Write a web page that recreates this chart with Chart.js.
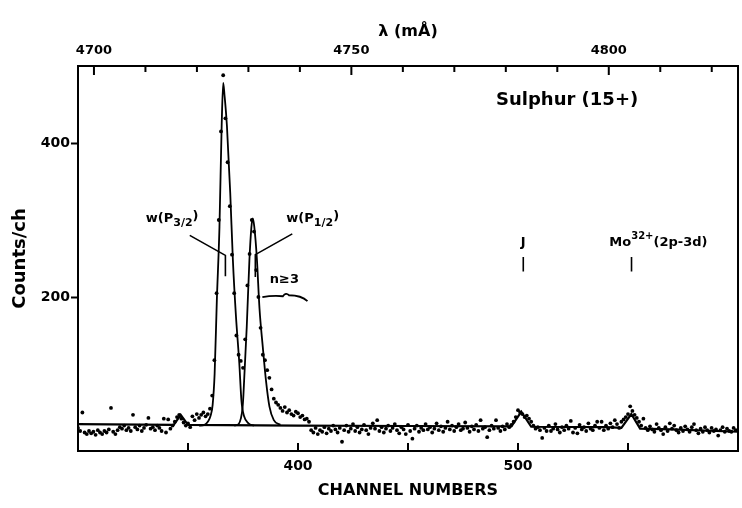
<!DOCTYPE html>
<html>
<head>
<meta charset="utf-8">
<script src="https://cdn.jsdelivr.net/npm/chart.js@4.4.1/dist/chart.umd.min.js"></script>
<style>
  html, body { margin: 0; padding: 0; background: #fff; }
  #wrap { width: 742px; height: 508px; }
</style>
</head>
<body>
<div id="wrap"><canvas id="chart" width="742" height="508"></canvas></div>
<script>
// channel 300 .. 599, one count per channel
const firstChannel = 300;
const counts = [
  30, 26, 50, 24, 22, 26, 23, 25, 21, 27,
  24, 22, 26, 24, 28, 56, 25, 22, 27, 31,
  29, 33, 27, 30, 26, 47, 31, 28, 33, 26,
  30, 34, 43, 29, 31, 27, 33, 30, 26, 42,
  24, 41, 29, 33, 38, 44, 47, 42, 37, 33,
  36, 31, 45, 40, 48, 43, 47, 50, 45, 48,
  55, 72, 118, 205, 300, 415, 488, 432, 375, 318,
  255, 205, 150, 125, 117, 108, 145, 215, 256, 300,
  285, 235, 200, 160, 125, 118, 105, 95, 80, 68,
  63, 60, 56, 52, 57, 50, 53, 48, 46, 51,
  49, 44, 46, 41, 42, 38, 27, 24, 30, 22,
  27, 25, 31, 23, 29, 26, 33, 28, 24, 30,
  12, 27, 33, 25, 29, 35, 26, 31, 24, 28,
  34, 27, 22, 30, 36, 29, 40, 26, 31, 24,
  29, 33, 26, 30, 35, 27, 23, 31, 28, 22,
  34, 26, 16, 29, 33, 25, 30, 27, 35, 28,
  31, 24, 29, 36, 27, 32, 25, 30, 38, 28,
  33, 26, 31, 35, 27, 29, 37, 30, 25, 32,
  28, 34, 26, 40, 29, 31, 18, 27, 33, 29,
  40, 30, 26, 32, 28, 35, 31, 34, 38, 44,
  53, 50, 48, 44, 46, 42, 38, 33, 29, 31,
  27, 17, 30, 26, 33, 26, 29, 35, 28, 24,
  31, 27, 33, 29, 39, 24, 30, 23, 34, 28,
  31, 26, 36, 29, 27, 33, 38, 30, 38, 27,
  33, 29, 36, 31, 40, 35, 30, 38, 41, 44,
  48, 58, 52, 47, 43, 38, 33, 42, 30, 27,
  32, 28, 25, 35, 30, 27, 22, 31, 26, 36,
  29, 33, 27, 24, 30, 26, 32, 28, 25, 31,
  35, 27, 23, 29, 25, 31, 27, 24, 30, 26,
  28, 20, 27, 31, 25, 29, 26, 25, 30, 27
];

// fitted line profiles (channel, counts)
const fitP32Ch  = [355, 357.5, 359, 360.3, 361.2, 362.1, 363.1, 364.3, 365.3, 366, 366.6, 367.7, 369.2, 370.4, 371.8, 373.3, 374.3, 375.5, 377.5, 380];
const fitP32Val = [33, 34, 38, 46, 60, 100, 195, 291, 422, 478, 462, 422, 335, 248, 175, 115, 65, 45, 36, 33];
const fitP12Ch  = [371, 373, 374, 374.8, 375.2, 376.7, 377.9, 378.8, 379.4, 380.1, 381.3, 382.5, 384, 385.5, 387, 389, 392];
const fitP12Val = [33, 35, 42, 56, 73, 161, 247, 290, 302, 292, 250, 185, 135, 90, 58, 40, 34];
const baseCh    = [300, 343.5, 346.7, 350, 400, 450, 497, 501.5, 506, 540, 547, 551.5, 555.5, 570, 600];
const baseVal   = [35, 34, 47, 34, 33, 32.5, 32, 51, 31.5, 31, 30, 48, 29, 28, 25];

// axes
const channelMin = 300, channelMax = 600;
const channelLabels = [400, 500];
const channelTicks = [350, 400, 450, 500, 550];
const countLabels = [200, 400];
const lambdaAtMin = 4696.9, lambdaAtMax = 4825.1;   // wavelength scale (mÅ) at channel 300 / 600
const lambdaLabels = [4700, 4750, 4800];
const lambdaTicks = [4700, 4710, 4720, 4730, 4740, 4750, 4760, 4770, 4780, 4790, 4800, 4810, 4820];

const FONT = "'DejaVu Sans', sans-serif";

function toXY(xs, ys) { return xs.map((x, i) => ({ x, y: ys[i] })); }

function drawRich(ctx, parts, x, y, align) {
  let w = 0;
  parts.forEach(p => { ctx.font = `bold ${p.size}px ${FONT}`; w += ctx.measureText(p.t).width; });
  let cx = align === 'center' ? x - w / 2 : x;
  parts.forEach(p => {
    ctx.font = `bold ${p.size}px ${FONT}`;
    ctx.fillText(p.t, cx, y + (p.dy || 0));
    cx += ctx.measureText(p.t).width;
  });
}

const notesPlugin = {
  id: 'notes',
  afterDraw(chart) {
    const { ctx, chartArea: a, scales } = chart;
    const sx = scales.x, sy = scales.y, st = scales.xTop;
    const X = v => sx.getPixelForValue(v), Y = v => sy.getPixelForValue(v);
    ctx.save();
    ctx.strokeStyle = '#000';
    ctx.fillStyle = '#000';
    ctx.lineWidth = 2;
    ctx.strokeRect(a.left, a.top, a.right - a.left, a.bottom - a.top);

    ctx.beginPath();
    channelTicks.forEach(v => { ctx.moveTo(X(v), a.bottom); ctx.lineTo(X(v), a.bottom - 8); });
    lambdaTicks.forEach(v => {
      const px = st.getPixelForValue(v);
      ctx.moveTo(px, a.top); ctx.lineTo(px, a.top + (lambdaLabels.includes(v) ? 9 : 6));
    });
    ctx.stroke();

    // leaders
    ctx.lineWidth = 1.6;
    ctx.beginPath();
    ctx.moveTo(X(350.8), Y(280)); ctx.lineTo(X(367), Y(254)); ctx.lineTo(X(367), Y(227));
    ctx.moveTo(X(397.4), Y(282)); ctx.lineTo(X(380.6), Y(255)); ctx.lineTo(X(380.6), Y(226));
    ctx.moveTo(X(502.4), Y(252)); ctx.lineTo(X(502.4), Y(233));
    ctx.moveTo(X(551.6), Y(252)); ctx.lineTo(X(551.6), Y(233));
    ctx.stroke();

    // brace under n>=3
    const bl = X(383.8), br = X(404.3), by = Y(201);
    ctx.lineWidth = 1.8;
    ctx.beginPath();
    ctx.moveTo(bl, by + 1);
    ctx.quadraticCurveTo(bl + 10, by - 1, (bl + br) / 2 - 2, by);
    ctx.quadraticCurveTo((bl + br) / 2 + 1, by - 4, (bl + br) / 2 + 4, by - 1);
    ctx.quadraticCurveTo(br - 6, by - 1, br, by + 5);
    ctx.stroke();

    ctx.textBaseline = 'middle';
    drawRich(ctx, [{ t: 'Sulphur (15+)', size: 18 }], X(490), Y(455), 'left');
    drawRich(ctx, [{ t: 'w(P', size: 13 }, { t: '3/2', size: 11, dy: 5 }, { t: ')', size: 13, dy: -2 }], X(330.8), Y(302), 'left');
    drawRich(ctx, [{ t: 'w(P', size: 13 }, { t: '1/2', size: 11, dy: 5 }, { t: ')', size: 13, dy: -2 }], X(394.7), Y(302), 'left');
    drawRich(ctx, [{ t: 'n\u22653', size: 13 }], X(393.8), Y(222), 'center');
    drawRich(ctx, [{ t: 'J', size: 13 }], X(502.4), Y(270), 'center');
    drawRich(ctx, [{ t: 'Mo', size: 13 }, { t: '32+', size: 10, dy: -7 }, { t: '(2p-3d)', size: 13 }], X(541.5), Y(270), 'left');
    ctx.restore();
  }
};

new Chart(document.getElementById('chart'), {
  data: {
    datasets: [
      {
        type: 'scatter',
        data: counts.map((c, i) => ({ x: firstChannel + i, y: c })),
        pointRadius: 1.9,
        pointBackgroundColor: '#000',
        pointBorderWidth: 0,
        order: 1
      },
      {
        type: 'line',
        data: toXY(fitP32Ch, fitP32Val),
        borderColor: '#000', borderWidth: 1.8, pointRadius: 0,
        cubicInterpolationMode: 'monotone', order: 2
      },
      {
        type: 'line',
        data: toXY(fitP12Ch, fitP12Val),
        borderColor: '#000', borderWidth: 1.8, pointRadius: 0,
        cubicInterpolationMode: 'monotone', order: 2
      },
      {
        type: 'line',
        data: toXY(baseCh, baseVal),
        borderColor: '#000', borderWidth: 2.2, pointRadius: 0,
        tension: 0, order: 2
      }
    ]
  },
  options: {
    responsive: false,
    animation: false,
    layout: { padding: { left: 0, right: 2, top: 0, bottom: 0 } },
    plugins: { legend: { display: false }, tooltip: { enabled: false } },
    scales: {
      x: {
        type: 'linear', position: 'bottom',
        min: channelMin, max: channelMax,
        afterBuildTicks: s => { s.ticks = channelLabels.map(v => ({ value: v })); },
        afterFit: s => { s.height = 57; },
        grid: { display: false, drawTicks: false },
        border: { display: false },
        ticks: { color: '#000', padding: 7, maxRotation: 0, callback: v => String(v),
                 font: { family: FONT, size: 14, weight: 'bold' } },
        title: { display: true, text: 'CHANNEL NUMBERS', color: '#000', padding: { top: 4, bottom: 8 },
                 font: { family: FONT, size: 16, weight: 'bold' } }
      },
      xTop: {
        type: 'linear', position: 'top',
        min: lambdaAtMin, max: lambdaAtMax,
        afterBuildTicks: s => { s.ticks = lambdaLabels.map(v => ({ value: v })); },
        afterFit: s => { s.height = 66; },
        grid: { display: false, drawTicks: false },
        border: { display: false },
        ticks: { color: '#000', padding: 8, maxRotation: 0, callback: v => String(v),
                 font: { family: FONT, size: 13, weight: 'bold' } },
        title: { display: true, text: 'λ (mÅ)', color: '#000', padding: { top: 22, bottom: 4 },
                 font: { family: FONT, size: 16, weight: 'bold' } }
      },
      y: {
        type: 'linear', position: 'left',
        min: 0, max: 500,
        afterBuildTicks: s => { s.ticks = countLabels.map(v => ({ value: v })); },
        afterFit: s => { s.width = 78; },
        grid: { drawOnChartArea: false, drawTicks: true, tickLength: 7, tickWidth: 2, tickColor: '#000' },
        border: { display: false },
        ticks: { color: '#000', padding: 1, callback: v => String(v),
                 font: { family: FONT, size: 14, weight: 'bold' } },
        title: { display: true, text: 'Counts/ch', color: '#000', padding: { top: 10, bottom: 4 },
                 font: { family: FONT, size: 18, weight: 'bold' } }
      }
    }
  },
  plugins: [notesPlugin]
});
</script>
</body>
</html>
